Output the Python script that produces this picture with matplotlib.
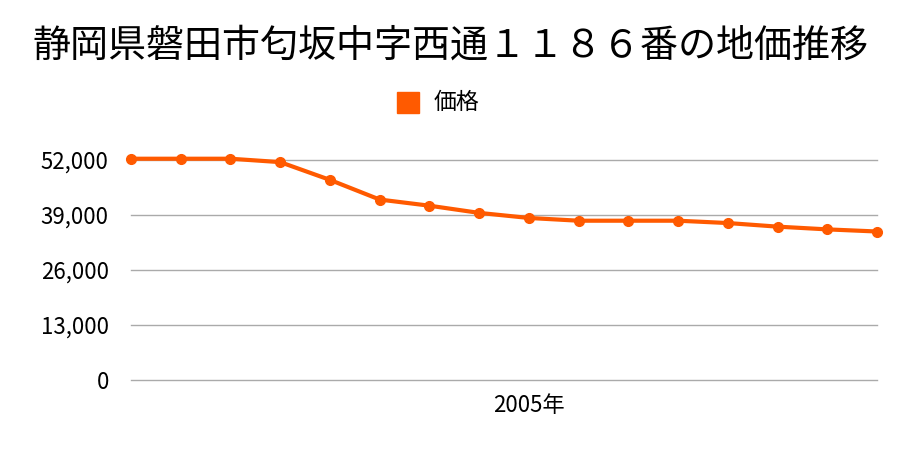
import numpy as np
import matplotlib.pyplot as plt

plt.rcParams['font.family'] = ['Noto Sans CJK JP', 'DejaVu Sans']

# データ
years = list(range(1997, 2013))
price = [52300, 52300, 52300, 51500, 47300, 42650, 41200, 39500,
         38300, 37650, 37650, 37650, 37100, 36250, 35600, 35100]
yticks = [0, 13000, 26000, 39000, 52000]
title = '静岡県磐田市匂坂中字西通１１８６番の地価推移'

color = '#ff5a00'

fig = plt.figure(figsize=(9, 4.5), dpi=100)
ax = fig.add_axes([131 / 900, 1 - 380 / 450, (877 - 131) / 900, (380 - 160) / 450])

x = np.arange(len(years))
ax.plot(x, price, '-o', color=color, lw=3, ms=7, clip_on=False, zorder=3)

ax.set_xlim(0, len(years) - 1)
ax.set_ylim(0, 52000)
ax.set_yticks(yticks)
ax.set_yticklabels([f'{v:,}' for v in yticks], fontsize=16)
ax.yaxis.grid(True, color='#aaaaaa', lw=1)
for gl in ax.get_ygridlines():
    gl.set_clip_on(False)
ax.tick_params(axis='y', length=0, pad=16)
i05 = years.index(2005)
ax.set_xticks([i05])
ax.set_xticklabels(['2005年'], fontsize=16)
ax.tick_params(axis='x', length=0, pad=10)
for s in ax.spines.values():
    s.set_visible(False)

fig.text(0.5, 1 - 46 / 450, title, ha='center', va='center', fontsize=27.4)

# 凡例
fig.patches.append(plt.Rectangle((397 / 900, 1 - 113 / 450), 22 / 900, 21 / 450,
                                 transform=fig.transFigure, color=color))
fig.text(434 / 900, 1 - 102 / 450, '価格', ha='left', va='center', fontsize=16.5)

fig.savefig('out.png', dpi=100)
